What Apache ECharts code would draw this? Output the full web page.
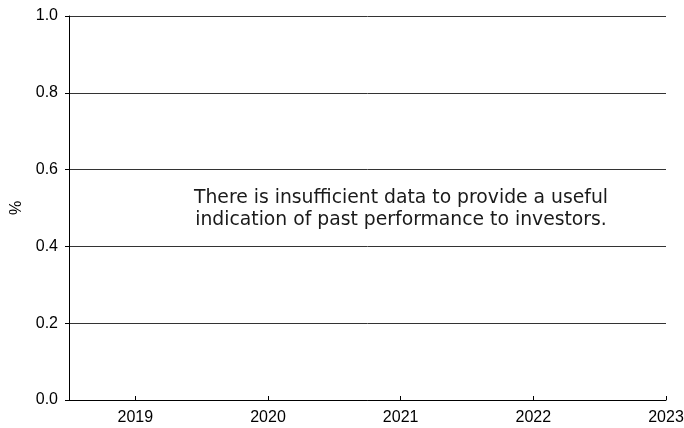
<!DOCTYPE html>
<html>
<head>
<meta charset="utf-8">
<script src="https://cdn.jsdelivr.net/npm/echarts@6/dist/echarts.min.js"></script>
<style>html,body{margin:0;padding:0;background:#fff}#c{width:684px;height:428px}</style>
</head>
<body>
<div id="c"></div>
<script>
const years = [2019, 2020, 2021, 2022, 2023];
const yTicks = [0, 0.2, 0.4, 0.6, 0.8, 1.0];
const seriesValues = [];
const message = 'There is insufficient data to provide a useful\nindication of past performance to investors.';

const chart = echarts.init(document.getElementById('c'), null, {renderer: 'canvas'});
chart.setOption({
  animation: false,
  grid: {left: 69, right: 18, top: 16, bottom: 28, containLabel: false, outerBoundsMode: 'none'},
  xAxis: {
    type: 'value', min: 2018.5, max: 2023,
    axisLine: {show: true, lineStyle: {color: '#000', width: 1}},
    axisTick: {show: true, inside: true, length: 4, customValues: years, lineStyle: {color: '#000'}},
    axisLabel: {customValues: years, formatter: v => String(v), color: '#000', fontFamily: 'Liberation Sans', fontSize: 16, margin: 10},
    splitLine: {show: false}
  },
  yAxis: {
    type: 'value', min: 0, max: 1, interval: 0.2,
    name: '%', nameLocation: 'middle', nameGap: 42, nameRotate: 90,
    nameTextStyle: {color: '#000', fontFamily: 'Liberation Sans', fontSize: 16},
    axisLine: {show: true, lineStyle: {color: '#000', width: 1}},
    axisTick: {show: true, inside: false, length: 4, lineStyle: {color: '#000'}},
    axisLabel: {formatter: v => v.toFixed(1), color: '#000', fontFamily: 'Liberation Sans', fontSize: 16, margin: 11},
    splitLine: {show: true, lineStyle: {color: '#333', width: 1}}
  },
  series: [{type: 'line', data: seriesValues}],
  graphic: [{
    type: 'text', x: 401, y: 187,
    style: {text: message, fill: '#1a1a1a', fontFamily: 'DejaVu Sans', fontSize: 18.8, align: 'center', verticalAlign: 'top', lineHeight: 22}
  }]
});
</script>
</body>
</html>
